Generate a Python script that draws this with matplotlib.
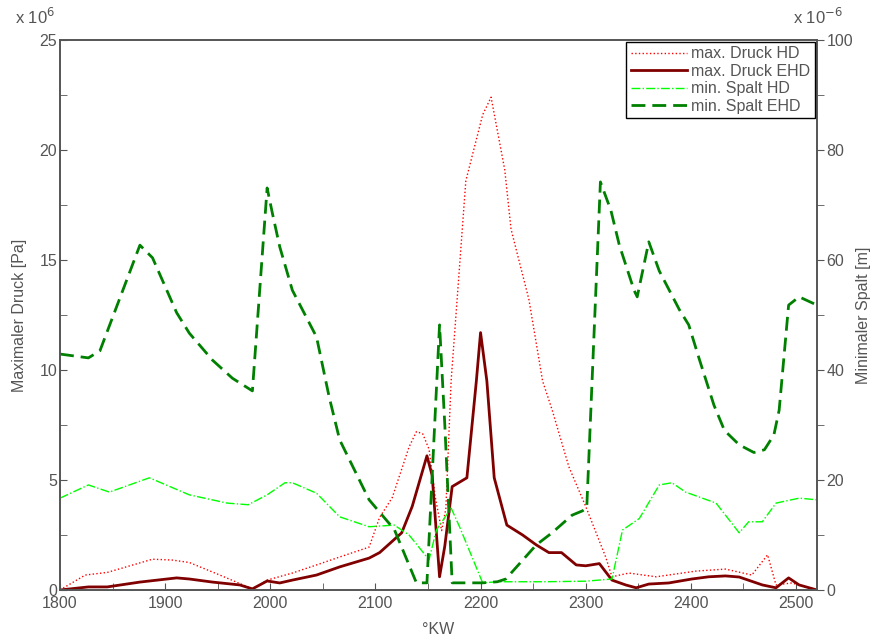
import matplotlib
matplotlib.use('Agg')
import matplotlib.pyplot as plt
from matplotlib.ticker import MultipleLocator

plt.rcParams['font.family'] = ['Liberation Sans', 'DejaVu Sans']

# max. Druck HD  (x 10^6 Pa)
kw_hd_p = [1800, 1824, 1845, 1888, 1907, 1923, 1952, 1983, 1997, 2021, 2044, 2066, 2094, 2104,
           2116, 2132, 2139, 2145, 2151, 2157, 2163, 2167, 2172, 2186, 2202, 2210, 2223, 2229,
           2246, 2259, 2268, 2284, 2300, 2319, 2325, 2341, 2367, 2405, 2433, 2458, 2473, 2481,
           2496, 2520]
p_hd = [0.0, 0.68, 0.8, 1.4, 1.36, 1.25, 0.68, 0.05, 0.45, 0.77, 1.14, 1.5, 1.95, 3.3,
        4.2, 6.5, 7.2, 7.1, 6.4, 4.2, 2.7, 3.7, 9.5, 18.6, 21.6, 22.4, 19.1, 16.4,
        13.2, 9.5, 8.2, 5.6, 3.8, 1.5, 0.6, 0.77, 0.6, 0.86, 0.95, 0.68, 1.6, 0.23,
        0.32, 0.0]

# max. Druck EHD  (x 10^6 Pa)
kw_ehd_p = [1800, 1827, 1845, 1876, 1911, 1923, 1945, 1971, 1983, 1997, 2009, 2021, 2044, 2066,
            2094, 2104, 2125, 2135, 2149, 2154, 2161, 2166, 2173, 2187, 2196, 2200, 2206, 2213,
            2225, 2240, 2253, 2265, 2277, 2291, 2300, 2313, 2325, 2338, 2348, 2360, 2379, 2401,
            2417, 2433, 2446, 2468, 2481, 2493, 2503, 2520]
p_ehd = [0.0, 0.14, 0.14, 0.36, 0.55, 0.5, 0.36, 0.23, 0.05, 0.41, 0.32, 0.45, 0.68, 1.05,
         1.45, 1.7, 2.6, 3.8, 6.1, 5.2, 0.6, 2.0, 4.7, 5.1, 9.5, 11.7, 9.5, 5.1,
         2.95, 2.5, 2.05, 1.7, 1.7, 1.14, 1.1, 1.2, 0.45, 0.23, 0.1, 0.27, 0.32, 0.5,
         0.6, 0.64, 0.59, 0.23, 0.1, 0.55, 0.23, 0.0]

# min. Spalt HD  (x 10^-6 m)
kw_hd_h = [1800, 1827, 1847, 1885, 1923, 1959, 1979, 1997, 2014, 2021, 2044, 2066, 2094, 2118,
           2132, 2151, 2158, 2172, 2180, 2202, 2216, 2260, 2300, 2325, 2335, 2351, 2370, 2382,
           2395, 2424, 2446, 2455, 2468, 2481, 2503, 2520]
h_hd = [16.7, 19.1, 17.8, 20.4, 17.3, 15.8, 15.5, 17.3, 19.5, 19.5, 17.6, 13.3, 11.5, 11.8,
        10.0, 5.5, 10.9, 14.9, 11.5, 1.3, 1.5, 1.5, 1.6, 2.0, 10.9, 13.0, 19.1, 19.5,
        17.8, 15.8, 10.4, 12.4, 12.4, 15.8, 16.7, 16.4]

# min. Spalt EHD  (x 10^-6 m)
kw_ehd_h = [1800, 1827, 1838, 1876, 1888, 1911, 1923, 1945, 1964, 1983, 1997, 2002, 2009, 2021,
            2044, 2056, 2066, 2094, 2118, 2139, 2149, 2161, 2166, 2173, 2202, 2216, 2224, 2253,
            2268, 2287, 2297, 2301, 2314, 2324, 2332, 2346, 2349, 2360, 2370, 2389, 2398, 2408,
            2422, 2432, 2446, 2460, 2470, 2479, 2484, 2493, 2503, 2520]
h_ehd = [42.9, 42.2, 43.5, 62.7, 60.4, 50.4, 46.7, 41.8, 38.5, 36.2, 73.1, 68.5, 62.4, 54.5,
         46.0, 35.1, 27.3, 16.4, 11.0, 1.3, 1.3, 48.2, 30.0, 1.3, 1.3, 1.5, 2.0, 8.2,
         10.4, 13.6, 14.4, 14.9, 74.2, 69.0, 62.7, 54.5, 53.3, 63.3, 58.0, 51.0, 48.2, 42.0,
         33.6, 29.0, 26.4, 25.0, 25.5, 28.2, 32.7, 51.8, 53.3, 51.8]

grau = '#555555'

fig = plt.figure(figsize=(8.77, 6.37), dpi=100)
ax = fig.add_axes([60/877, 47/637, 757/877, 550/637])
ax2 = ax.twinx()

l1, = ax.plot(kw_hd_p, p_hd, color='#ff0000', linestyle=':', linewidth=1.0, label='max. Druck HD')
l2, = ax.plot(kw_ehd_p, p_ehd, color='#800000', linestyle='-', linewidth=2.0, label='max. Druck EHD')
l3, = ax2.plot(kw_hd_h, h_hd, color='#00ff00', linestyle='-.', linewidth=1.0, label='min. Spalt HD')
l4, = ax2.plot(kw_ehd_h, h_ehd, color='#008000', linestyle='--', linewidth=2.0,
               dashes=(5, 2.5), label='min. Spalt EHD')

ax.set_xlim(1800, 2520)
ax.set_ylim(0, 25)
ax2.set_ylim(0, 100)

ax.xaxis.set_major_locator(MultipleLocator(100))
ax.xaxis.set_minor_locator(MultipleLocator(50))
ax.yaxis.set_major_locator(MultipleLocator(5))
ax.yaxis.set_minor_locator(MultipleLocator(2.5))
ax2.yaxis.set_major_locator(MultipleLocator(20))
ax2.yaxis.set_minor_locator(MultipleLocator(10))

ax.tick_params(axis='both', which='both', direction='in', colors=grau, labelsize=11.5,
               top=False, right=False, length=5)
ax.tick_params(axis='x', which='major', pad=4)
ax.tick_params(axis='y', which='major', pad=2)
ax2.tick_params(axis='y', which='both', direction='out', colors=grau, labelsize=11.5, length=5, pad=2)

for a in (ax, ax2):
    for s in a.spines.values():
        s.set_color(grau)
        s.set_linewidth(1.2)

ax.set_xlabel('°KW', fontsize=11.5, color=grau)
ax.xaxis.set_label_coords(0.5, -0.058)
ax.set_ylabel('Maximaler Druck [Pa]', fontsize=11.5, color=grau)
ax.yaxis.set_label_coords(-0.043, 0.5)
ax2.set_ylabel('Minimaler Spalt [m]', fontsize=11.5, color=grau)
ax2.yaxis.set_label_coords(1.052, 0.5)

fig.text(15/877, 1 - 17/637, r'x 10$^{6}$', fontsize=12, color=grau, va='center')
fig.text(793/877, 1 - 17/637, r'x 10$^{-6}$', fontsize=12, color=grau, va='center')

leg = ax2.legend(handles=[l1, l2, l3, l4], loc='upper right', fontsize=11.5, fancybox=False,
                 framealpha=1, edgecolor='black', borderaxespad=0.1, handlelength=3.5,
                 handletextpad=0.3, borderpad=0.3, labelspacing=0.15)
leg.get_frame().set_linewidth(1.0)
for t in leg.get_texts():
    t.set_color(grau)

fig.savefig('out.png', dpi=100)
